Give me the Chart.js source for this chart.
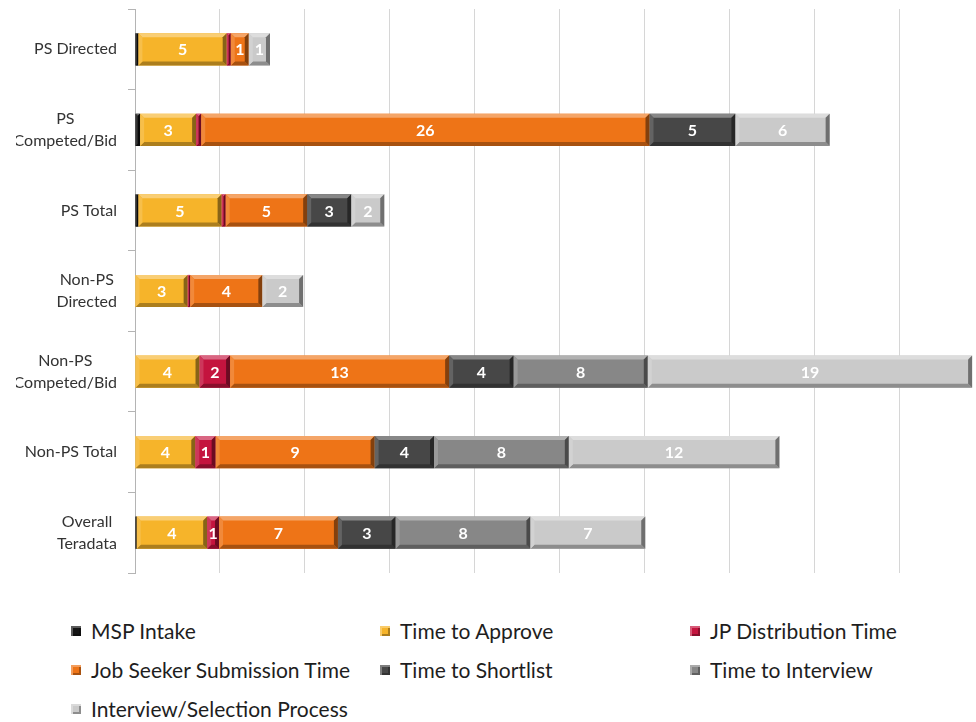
<!DOCTYPE html>
<html>
<head>
<meta charset="utf-8">
<script src="https://cdn.jsdelivr.net/npm/chart.js@4.4.1/dist/chart.umd.min.js"></script>
<style>
  html, body { margin: 0; padding: 0; background: #fff; overflow: hidden; width: 976px; height: 722px; }
  #chart { position: absolute; left: 16px; top: 0; }
  #legend {
    position: absolute; left: 71px; top: 611px;
    display: grid; grid-template-columns: 309px 310px auto; grid-auto-rows: 39px;
    font-family: Lato, "Open Sans", sans-serif; font-size: 21px; color: #1e1e1e;
  }
  #legend .item { display: flex; align-items: center; white-space: nowrap; }
  #legend .box { width: 10px; height: 10px; margin-right: 10px; flex: none; }
</style>
</head>
<body>
<canvas id="chart" width="1000" height="590"></canvas>
<div id="legend"></div>
<script>
// categories (top to bottom)
const categories = [
    'PS Directed',
    ['PS', 'Competed/Bid'],
    'PS Total',
    ['Non-PS', 'Directed'],
    ['Non-PS', 'Competed/Bid'],
    'Non-PS Total',
    ['Overall', 'Teradata']
];

// series values (days)
const mspIntake          = [0.2, 0.3, 0.2, 0, 0, 0, 0.1];
const timeToApprove      = [5.2, 3.3, 4.9, 3.1, 3.8, 3.55, 4.15];
const jpDistribution     = [0.24, 0.3, 0.24, 0.15, 1.8, 1.2, 0.7];
const jobSeekerSubmit    = [1.06, 26.4, 4.8, 4.25, 12.9, 9.36, 7.0];
const timeToShortlist    = [0, 5.06, 2.6, 0, 3.8, 3.5, 3.4];
const timeToInterview    = [0, 0, 0, 0, 7.9, 7.94, 7.94];
const interviewSelection = [1.25, 5.55, 1.94, 2.4, 19.1, 12.4, 6.76];

const seriesNames = [
    'MSP Intake', 'Time to Approve', 'JP Distribution Time',
    'Job Seeker Submission Time', 'Time to Shortlist', 'Time to Interview',
    'Interview/Selection Process'
];
const seriesValues = [
    mspIntake, timeToApprove, jpDistribution, jobSeekerSubmit,
    timeToShortlist, timeToInterview, interviewSelection
];
const seriesColors = ['#141414', '#F6B42A', '#C4143E', '#EE7417', '#474747', '#878787', '#CACACA'];

// x axis
const xMin = 0;
const xMax = 50;
const xStep = 5;

function mix(hex, target, amt) {
    const n = parseInt(hex.slice(1), 16);
    const r = (n >> 16) & 255, g = (n >> 8) & 255, b = n & 255;
    const m = c => Math.round(c + (target - c) * amt);
    return `rgb(${m(r)},${m(g)},${m(b)})`;
}

// fake the excel bevel + draw the value labels
const bevelLabels = {
    id: 'bevelLabels',
    afterDatasetsDraw(chart) {
        const ctx = chart.ctx;
        ctx.save();
        chart.data.datasets.forEach((ds, i) => {
            const meta = chart.getDatasetMeta(i);
            meta.data.forEach((bar, j) => {
                if (!ds.data[j]) return;
                const p = bar.getProps(['x', 'y', 'base', 'height'], true);
                const l = Math.min(p.x, p.base), r = Math.max(p.x, p.base);
                const t = p.y - p.height / 2, btm = p.y + p.height / 2;
                const b = Math.min(4, (r - l) / 2);
                const col = ds.backgroundColor;
                const poly = (pts, fill) => {
                    ctx.fillStyle = fill;
                    ctx.beginPath();
                    ctx.moveTo(pts[0][0], pts[0][1]);
                    pts.slice(1).forEach(q => ctx.lineTo(q[0], q[1]));
                    ctx.closePath();
                    ctx.fill();
                };
                poly([[l, t], [r, t], [r - b, t + b], [l + b, t + b]], mix(col, 255, 0.35));
                poly([[l, btm], [r, btm], [r - b, btm - b], [l + b, btm - b]], mix(col, 0, 0.3));
                poly([[l, t], [l + b, t + b], [l + b, btm - b], [l, btm]], mix(col, 255, 0.15));
                poly([[r, t], [r - b, t + b], [r - b, btm - b], [r, btm]], mix(col, 0, 0.45));
            });
        });
        ctx.font = 'bold 16px Lato, "Open Sans", sans-serif';
        ctx.fillStyle = '#ffffff';
        ctx.textAlign = 'center';
        ctx.textBaseline = 'middle';
        chart.data.datasets.forEach((ds, i) => {
            const meta = chart.getDatasetMeta(i);
            meta.data.forEach((bar, j) => {
                const v = ds.data[j];
                if (Math.round(v) < 1) return;
                const p = bar.getProps(['x', 'y', 'base'], true);
                ctx.fillText(String(Math.round(v)), (p.x + p.base) / 2, p.y + 1);
            });
        });
        ctx.restore();
    }
};

// category labels, lines centred on each other, block right aligned
const yLabels = {
    id: 'yLabels',
    afterDraw(chart) {
        const ctx = chart.ctx;
        const yScale = chart.scales.y;
        const right = chart.chartArea.left - 18;
        ctx.save();
        ctx.font = '16px Lato, "Open Sans", sans-serif';
        ctx.fillStyle = '#333333';
        ctx.textAlign = 'center';
        ctx.textBaseline = 'middle';
        chart.data.labels.forEach((lab, j) => {
            const lines = Array.isArray(lab) ? lab : [lab];
            const w = Math.max(...lines.map(s => ctx.measureText(s).width));
            const yc = yScale.getPixelForValue(j);
            lines.forEach((s, k) => {
                ctx.fillText(s, right - w / 2, yc + (k - (lines.length - 1) / 2) * 22);
            });
        });
        ctx.restore();
    }
};

const chart = new Chart(document.getElementById('chart'), {
    type: 'bar',
    data: {
        labels: categories,
        datasets: seriesNames.map((name, i) => ({
            label: name,
            data: seriesValues[i],
            backgroundColor: seriesColors[i],
            borderWidth: 0,
            barPercentage: 0.4,
            categoryPercentage: 1
        }))
    },
    options: {
        indexAxis: 'y',
        responsive: false,
        animation: false,
        layout: { padding: { left: 0, right: 32, top: 9, bottom: 17 } },
        scales: {
            x: {
                stacked: true,
                min: xMin,
                max: xMax,
                ticks: { stepSize: xStep, display: false },
                grid: { color: '#d6d6d6', drawTicks: false },
                border: { display: false },
                afterFit: s => { s.height = 0; }
            },
            y: {
                stacked: true,
                ticks: { display: false },
                grid: { drawOnChartArea: false, tickLength: 7, color: '#b4b4b4' },
                border: { color: '#b4b4b4' },
                afterFit: s => { s.width = 119; }
            }
        },
        plugins: {
            legend: { display: false },
            tooltip: { enabled: false }
        }
    },
    plugins: [bevelLabels, yLabels]
});

// html legend built from the chart's datasets
const legendEl = document.getElementById('legend');
chart.data.datasets.forEach(ds => {
    const item = document.createElement('div');
    item.className = 'item';
    const box = document.createElement('span');
    box.className = 'box';
    box.style.background = ds.backgroundColor;
    box.style.boxShadow = `inset 2px 2px 0 ${mix(ds.backgroundColor, 255, 0.3)}, inset -2px -2px 0 ${mix(ds.backgroundColor, 0, 0.3)}`;
    const txt = document.createElement('span');
    txt.textContent = ds.label;
    item.appendChild(box);
    item.appendChild(txt);
    legendEl.appendChild(item);
});
</script>
</body>
</html>
